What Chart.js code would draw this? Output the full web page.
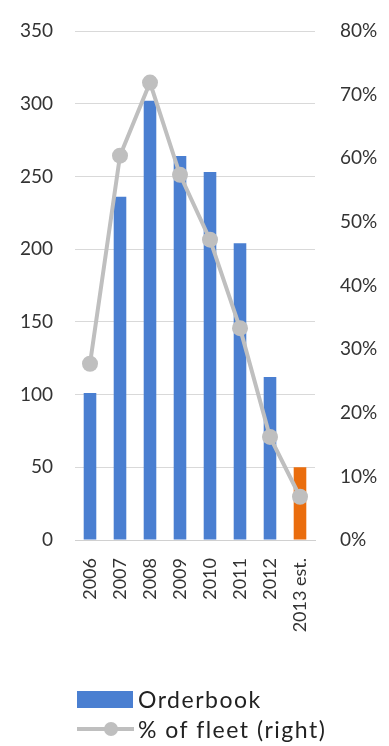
<!DOCTYPE html>
<html>
<head>
<meta charset="utf-8">
<script src="https://cdn.jsdelivr.net/npm/chart.js@4"></script>
<style>
  html, body { margin: 0; padding: 0; background: #fff; }
  #wrap { position: relative; width: 389px; height: 746px; }
  #legend { position: absolute; left: 77px; top: 684px; font-family: Lato, sans-serif; font-size: 23px; letter-spacing: 1.5px; color: #222; }
  .item { display: flex; align-items: center; height: 30px; }
  .box { width: 56px; height: 17px; background: #4a7fd1; margin-right: 5px; }
  .line { position: relative; width: 57px; height: 4px; background: #bfbfbf; margin-right: 4px; }
  .line span { position: absolute; left: 27px; top: -5px; width: 14px; height: 14px; border-radius: 50%; background: #bfbfbf; }
</style>
</head>
<body>
<div id="wrap">
  <canvas id="chart" width="389" height="746"></canvas>
  <div id="legend">
    <div class="item"><div class="box"></div>Orderbook</div>
    <div class="item"><div class="line"><span></span></div>% of fleet (right)</div>
  </div>
</div>
<script>
const years = ["2006", "2007", "2008", "2009", "2010", "2011", "2012", "2013 est."]
const orderbook = [101, 236, 302, 264, 253, 204, 112, 50]
const fleetShare = [27.7, 60.4, 71.9, 57.4, 47.2, 33.3, 16.2, 6.8]
const barColors = ["#4a7fd1", "#4a7fd1", "#4a7fd1", "#4a7fd1", "#4a7fd1", "#4a7fd1", "#4a7fd1", "#ea6d0d"]

const tickFont = { family: "Lato, sans-serif", size: 19 }

// fixed axis width, and no extra room above/below for the tick labels
const fitSide = (width) => (scale) => {
    scale.width = width
    scale.paddingTop = 0
    scale.paddingBottom = 0
}

const ctx = document.querySelector("#chart")

new Chart(ctx, {
    data: {
        labels: years,
        datasets: [{
            type: "line",
            label: "% of fleet (right)",
            data: fleetShare,
            yAxisID: "pct",
            borderColor: "#bfbfbf",
            backgroundColor: "#bfbfbf",
            borderWidth: 4,
            pointRadius: 8,
            pointBorderWidth: 0,
            tension: 0,
            order: 0,
        }, {
            type: "bar",
            label: "Orderbook",
            data: orderbook,
            yAxisID: "y",
            backgroundColor: barColors,
            categoryPercentage: 1,
            barPercentage: 0.42,
            order: 1,
        }]
    },
    options: {
        responsive: false,
        animation: false,
        layout: {
            padding: { top: 31, bottom: 86, left: 0, right: 0 }
        },
        scales: {
            x: {
                grid: { display: false },
                border: { color: "#d0d0d0" },
                ticks: {
                    color: "#333",
                    font: { family: "Lato, sans-serif", size: 18 },
                    minRotation: 90,
                    maxRotation: 90,
                    padding: 10,
                },
                afterFit: (scale) => { scale.height = 120 },
            },
            y: {
                position: "left",
                min: 0,
                max: 350,
                grid: { color: "#d9d9d9", drawTicks: false },
                border: { display: false },
                ticks: {
                    stepSize: 50,
                    color: "#333",
                    font: tickFont,
                    padding: 22,
                },
                afterFit: fitSide(75),
            },
            pct: {
                position: "right",
                min: 0,
                max: 80,
                grid: { display: false, drawTicks: false },
                border: { display: false },
                ticks: {
                    stepSize: 10,
                    color: "#333",
                    font: tickFont,
                    padding: 25,
                    callback: (value) => `${value}%`,
                },
                afterFit: fitSide(74),
            }
        },
        plugins: {
            legend: { display: false },
            tooltip: { enabled: false }
        }
    }
})
</script>
</body>
</html>
